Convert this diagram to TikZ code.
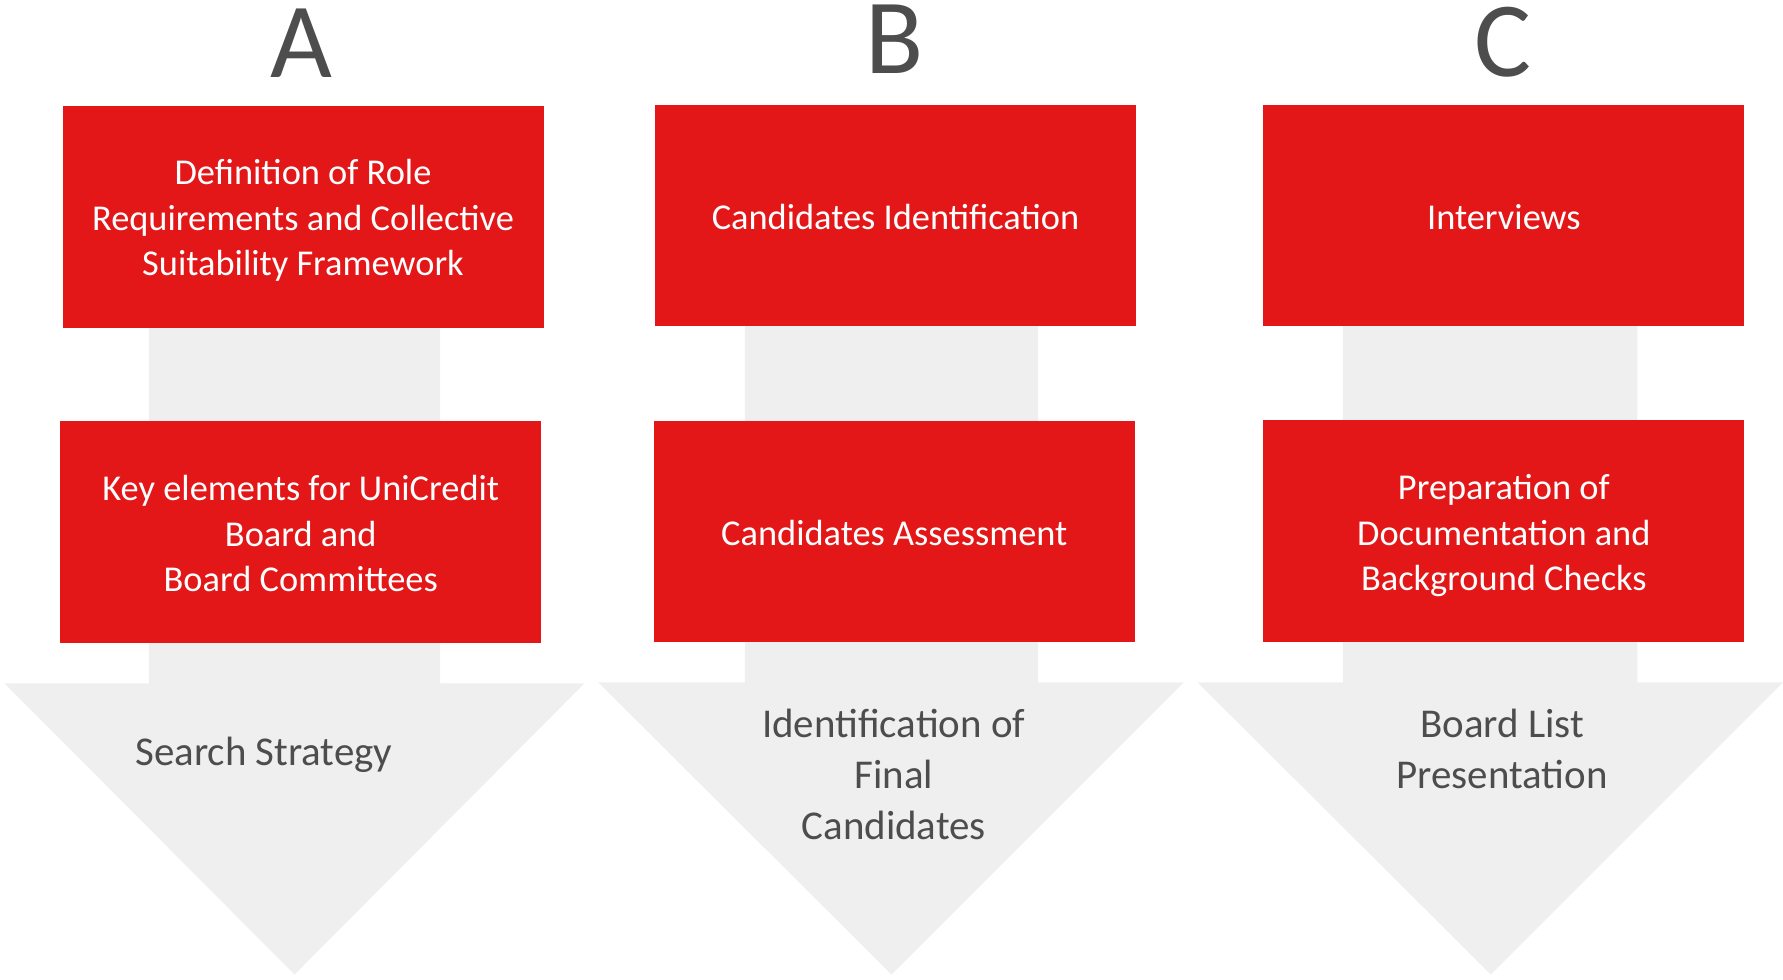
\documentclass[tikz,border=0pt]{standalone}
\usepackage{fontspec}
\setmainfont{Carlito}
\definecolor{ucred}{HTML}{E31718}
\definecolor{arrowgray}{HTML}{EFEFEF}
\definecolor{txtgray}{HTML}{4D4D4D}
\begin{document}
\begin{tikzpicture}[x=1pt,y=-1pt,
  redbox/.style={fill=ucred, draw=none, minimum width=423pt, minimum height=195pt, inner sep=0pt},
  boxtext/.style={text=white, align=center, inner sep=0pt, font=\fontsize{32}{40}\selectfont},
  letter/.style={text=txtgray, font=\fontsize{94}{100}\selectfont, anchor=base, inner sep=0pt, text height=62pt, text depth=0pt},
  arrowtext/.style={text=txtgray, align=center, font=\fontsize{36}{45}\selectfont, inner sep=0pt},
  grayarrow/.style={fill=arrowgray, draw=none}]
\useasboundingbox (0,0) rectangle (1568,861);
% gray down arrows
\fill[grayarrow] (131,285) -- (387,285) -- (387,601) -- (514,601) -- (259,857) -- (4,601) -- (131,601) -- cycle;
\fill[grayarrow] (655,285) -- (913,285) -- (913,600) -- (1041,600) -- (784,857) -- (526,600) -- (655,600) -- cycle;
\fill[grayarrow] (1181,285) -- (1440,285) -- (1440,600) -- (1568,600) -- (1311,857) -- (1053,600) -- (1181,600) -- cycle;
% letters
\node[letter] (la) at (265,68) {A};
\node[letter] (lb) at (787,64.5) {B};
\node[letter] (lc) at (1322,67) {C};
% red boxes
\node[redbox] (a1) at (266.5,191) {};
\node[redbox] (a2) at (264.5,468) {};
\node[redbox] (b1) at (787.5,189.5) {};
\node[redbox] (b2) at (786.5,467.5) {};
\node[redbox] (c1) at (1322.5,189.5) {};
\node[redbox] (c2) at (1322.5,467) {};
% box texts
\node[boxtext] (a1t) at (266.5,194) {Definition of Role\\Requirements and Collective\\Suitability Framework};
\node[boxtext] (a2t) at (264.5,469.5) {Key elements for UniCredit\\Board and\\Board Committees};
\node[boxtext] (b1t) at (787.5,190.5) {Candidates Identification};
\node[boxtext] (b2t) at (786.5,468.5) {Candidates Assessment};
\node[boxtext] (c1t) at (1322.5,190.5) {Interviews};
\node[boxtext] (c2t) at (1322.5,471) {Preparation of\\Documentation and\\Background Checks};
% arrow texts
\node[arrowtext] (ta) at (232,664) {Search Strategy};
\node[arrowtext] (tb) at (786,681) {Identification of\\Final\\Candidates};
\node[arrowtext] (tc) at (1321,658.5) {Board List\\Presentation};
\end{tikzpicture}
\end{document}
